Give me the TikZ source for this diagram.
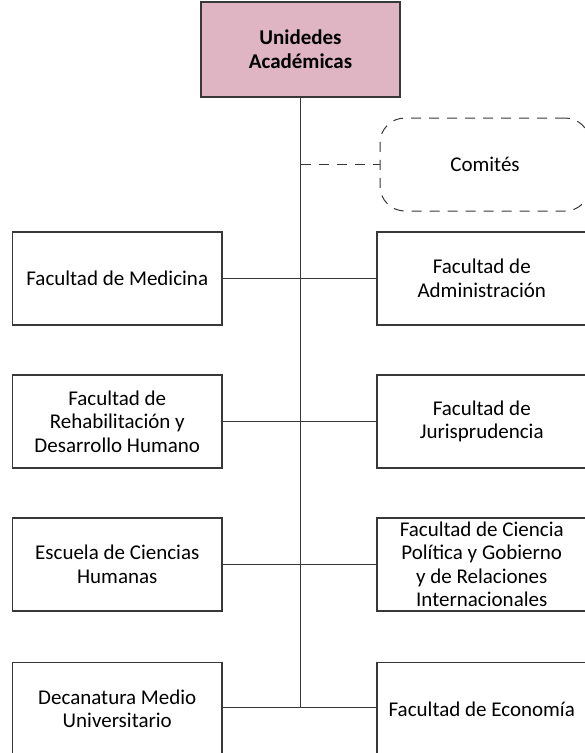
\documentclass[tikz,border=0pt]{standalone}
\usepackage{fontspec}
\setmainfont{Carlito}
\definecolor{pinkfill}{HTML}{DFB5C3}
\definecolor{linec}{HTML}{383838}
\begin{document}
\begin{tikzpicture}[x=1pt,y=-1pt,
  box/.style={draw=linec,line width=1.3pt,minimum width=209.5pt,minimum height=93pt,
    align=center,inner sep=0pt,font=\fontsize{21}{23.5}\selectfont},
  link/.style={draw=linec,line width=1pt},
  dlink/.style={draw=linec,line width=1pt,dash pattern=on 10pt off 8pt}]
\useasboundingbox (0,0) rectangle (585,753);
\node[box,fill=pinkfill,minimum width=199pt,minimum height=95pt,font=\bfseries\fontsize{21}{24}\selectfont] (top) at (300.5,49.5) {Unidedes\\Académicas};
\node[box,dlink,rounded corners=25pt,minimum width=210pt,minimum height=93pt] (com) at (485,164.5) {Comités};
\node[box] (l1) at (117.25,278.5) {Facultad de Medicina};
\node[box] (r1) at (481.75,278.5) {Facultad de\\Administración};
\node[box] (l2) at (117.25,421.5) {Facultad de\\Rehabilitación y\\Desarrollo Humano};
\node[box] (r2) at (481.75,421.5) {Facultad de\\Jurisprudencia};
\node[box] (l3) at (117.25,564.5) {Escuela de Ciencias\\Humanas};
\node[box] (r3) at (481.75,564.5) {Facultad de Ciencia\\Política y Gobierno\\y de Relaciones\\Internacionales};
\node[box] (l4) at (117.25,709) {Decanatura Medio\\Universitario};
\node[box] (r4) at (481.75,709) {Facultad de Economía};
\coordinate (vend) at (300.5,707.5);
\coordinate (dstart) at (top.south |- com.west);
\draw[link] (top.south) -- (vend);
\draw[dlink] (dstart) -- (com.west);
\draw[link] (l1.east) -- (r1.west);
\draw[link] (l2.east) -- (r2.west);
\draw[link] (l3.east) -- (r3.west);
\path (l4.west -| l4.east) ++(0,-1.5) coordinate (c4l);
\draw[link] (c4l) -- (c4l -| r4.west);
\end{tikzpicture}
\end{document}
